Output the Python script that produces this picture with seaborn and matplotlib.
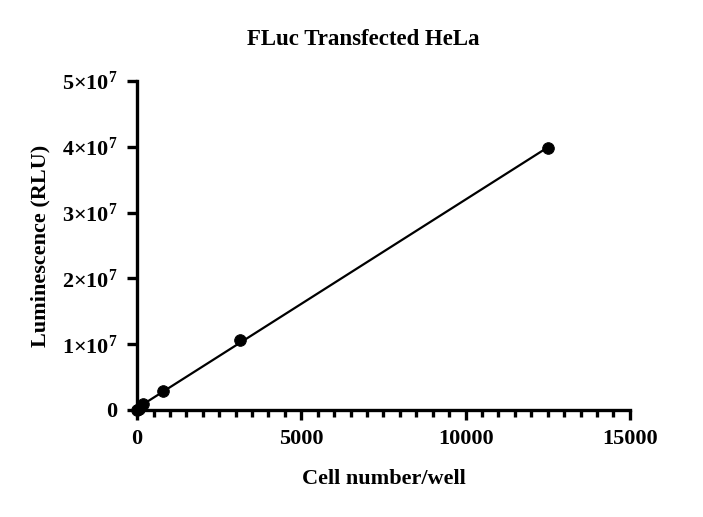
import numpy as np
import pandas as pd
import matplotlib
matplotlib.use('Agg')
import matplotlib.pyplot as plt
import seaborn as sns
from matplotlib.ticker import MultipleLocator

# data (4-fold dilution series)
cells = [12, 49, 195, 781, 3125, 12500]
rlu = [0.05e6, 0.2e6, 0.85e6, 2.95e6, 1.07e7, 3.98e7]
yticks = [0, 1e7, 2e7, 3e7, 4e7, 5e7]
ylabels = ['0'] + [r'$\mathbf{%d{\times}10^{7}}$' % i for i in range(1, 6)]

df = pd.DataFrame({'cells': cells, 'rlu': rlu})

sns.set_style('ticks', {'text.color': 'black', 'axes.labelcolor': 'black',
                        'axes.edgecolor': 'black', 'xtick.color': 'black',
                        'ytick.color': 'black'})
plt.rcParams['font.family'] = ['Liberation Serif', 'DejaVu Serif']
plt.rcParams['font.weight'] = 'bold'
plt.rcParams['mathtext.fontset'] = 'custom'
plt.rcParams['mathtext.rm'] = 'Liberation Serif:bold'
plt.rcParams['mathtext.bf'] = 'Liberation Serif:bold'

fig = plt.figure(figsize=(7.03, 5.17), dpi=100)
ax = fig.add_axes([0.195, 0.207, 0.701, 0.636])

# linear fit line
slope, intercept = np.polyfit(df['cells'], df['rlu'], 1)
xfit = np.linspace(0, df['cells'].max(), 50)
ax.plot(xfit, slope * xfit + intercept, color='black', lw=1.6, zorder=2)
sns.scatterplot(data=df, x='cells', y='rlu', color='black', s=70,
                edgecolor='black', ax=ax, zorder=3, clip_on=False)

ax.set_xlim(0, 15000)
ax.set_ylim(0, 5e7)
ax.xaxis.set_major_locator(MultipleLocator(5000))
ax.xaxis.set_minor_locator(MultipleLocator(500))
ax.set_yticks(yticks)
ax.set_yticklabels(ylabels)

for side in ['top', 'right']:
    ax.spines[side].set_visible(False)
for side in ['left', 'bottom']:
    ax.spines[side].set_linewidth(2.4)
    ax.spines[side].set_color('black')
ax.tick_params(axis='both', which='major', length=7, width=2.4,
               labelsize=16, pad=7, colors='black')
ax.tick_params(axis='x', which='minor', length=5, width=2.4, colors='black')

ax.set_xlabel('Cell number/well', fontsize=16, fontweight='bold', labelpad=14,
              color='black')
ax.set_ylabel('Luminescence (RLU)', fontsize=16, fontweight='bold', labelpad=8,
              color='black')
ax.set_title('FLuc Transfected HeLa', fontsize=16.5, fontweight='bold', pad=26,
             color='black', x=0.458)

fig.savefig('out.png', dpi=100)
